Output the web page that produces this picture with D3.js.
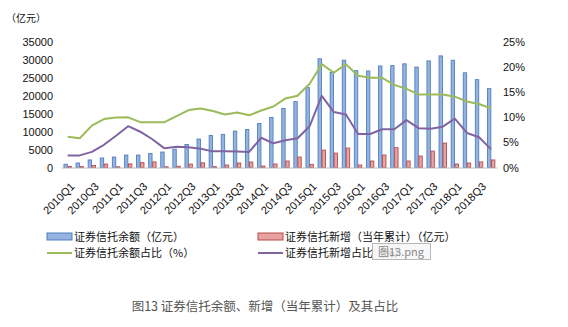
<!DOCTYPE html>
<html><head><meta charset="utf-8">
<script src="https://cdn.jsdelivr.net/npm/d3@7"></script>
<style>
html,body{margin:0;padding:0;background:#fff;}
svg{display:block;}
</style></head>
<body><svg id="c" width="568" height="327"></svg>
<script>
const quarters = ["2010Q1","2010Q2","2010Q3","2010Q4","2011Q1","2011Q2","2011Q3","2011Q4",
"2012Q1","2012Q2","2012Q3","2012Q4","2013Q1","2013Q2","2013Q3","2013Q4",
"2014Q1","2014Q2","2014Q3","2014Q4","2015Q1","2015Q2","2015Q3","2015Q4",
"2016Q1","2016Q2","2016Q3","2016Q4","2017Q1","2017Q2","2017Q3","2017Q4",
"2018Q1","2018Q2","2018Q3","2018Q4"];
const shownLabels = ["2010Q1","2010Q3","2011Q1","2011Q3","2012Q1","2012Q3","2013Q1","2013Q3",
"2014Q1","2014Q3","2015Q1","2015Q3","2016Q1","2016Q3","2017Q1","2017Q3","2018Q1","2018Q3"];
const balance = [900,1250,2100,2650,2900,3450,3450,3900,4300,5100,6400,7900,
8900,9200,10100,10550,12200,13900,16400,18300,22200,30200,26400,29800,
26900,26800,28200,28300,28800,27900,29600,31000,29800,26300,24400,21900];
const newAdd = [300,250,550,950,200,1000,1350,1550,200,350,950,1300,
230,690,1240,1520,400,970,1800,2900,880,4840,4000,5400,
690,1800,3460,5500,1800,3180,4560,6780,970,1240,1550,2100];
const balShare = [6.1,5.8,8.3,9.6,9.9,9.95,9.0,9.0,9.0,10.2,11.4,11.7,
11.2,10.5,10.9,10.35,11.3,12.1,13.7,14.25,16.6,20.5,18.8,20.5,
18.2,17.8,17.8,16.4,15.6,14.5,14.5,14.5,14.05,13.1,12.6,11.7];
const newShare = [2.4,2.4,3.1,4.5,6.3,8.2,7.1,5.6,3.8,4.1,4.0,3.7,
3.2,3.2,3.15,3.1,5.9,4.8,5.4,5.8,8.2,14.2,11.0,10.5,
6.65,6.65,7.6,7.6,9.4,7.8,7.7,8.1,9.7,6.85,6.0,3.6];
const leftTicks = [0,5000,10000,15000,20000,25000,30000,35000];
const rightTicks = [0,5,10,15,20,25];
const seriesNames = ["证券信托余额（亿元）","证券信托新增（当年累计）（亿元）","证券信托余额占比（%）","证券信托新增占比（%）"];
const leftUnit = "（亿元）";
const titleText = "图13 证券信托余额、新增（当年累计）及其占比";

const svg = d3.select("#c");
const yTop = 41.5, base = 167.5, x0 = 61.6, x1 = 497.2;
const x = d3.scaleBand().domain(quarters).range([x0, x1]).padding(0);
const yL = d3.scaleLinear().domain([0,35000]).range([base, yTop]);
const yR = d3.scaleLinear().domain([0,25]).range([base, yTop]);
const cx = q => x(q) + x.bandwidth()/2;
const numFont = "'Liberation Sans', Arial, sans-serif";
const cjkFont = "'Noto Sans CJK SC', sans-serif";

// left axis
const gL = svg.append("g").attr("transform", `translate(${53},0)`)
  .call(d3.axisLeft(yL).tickValues(leftTicks).tickSize(0).tickPadding(0).tickFormat(d3.format("d")));
gL.select(".domain").remove();
gL.selectAll("text").attr("font-family", numFont).attr("font-size", 11).attr("fill", "#111");

// right axis
const gR = svg.append("g").attr("transform", `translate(${503},0)`)
  .call(d3.axisRight(yR).tickValues(rightTicks).tickSize(0).tickPadding(0).tickFormat(d => d + "%"));
gR.select(".domain").remove();
gR.selectAll("text").attr("font-family", numFont).attr("font-size", 11).attr("fill", "#111");

svg.append("text").attr("x", 6).attr("y", 22).text(leftUnit)
  .attr("font-family", cjkFont).attr("font-size", 10).attr("fill", "#111");

// bars
const bw = 3.4;
svg.append("g").selectAll("rect").data(quarters).join("rect")
  .attr("x", (q) => cx(q) - bw - 0.3).attr("width", bw)
  .attr("y", (q,i) => yL(balance[i])).attr("height", (q,i) => base - yL(balance[i]))
  .attr("fill", "#95b3de").attr("stroke", "#4f7fc0").attr("stroke-width", 0.9);
svg.append("g").selectAll("rect").data(quarters).join("rect")
  .attr("x", (q) => cx(q) + 0.3).attr("width", bw)
  .attr("y", (q,i) => yL(newAdd[i])).attr("height", (q,i) => base - yL(newAdd[i]))
  .attr("fill", "#e6a3a2").attr("stroke", "#b94a48").attr("stroke-width", 0.9);

// x axis line
svg.append("line").attr("x1", x0).attr("x2", x1).attr("y1", base + 0.5).attr("y2", base + 0.5)
  .attr("stroke", "#bcbcbc").attr("stroke-width", 1);

// lines
const lineGen = arr => d3.line().x(q => cx(q)).y((q,i) => yR(arr[i]))(quarters);
svg.append("path").attr("d", lineGen(balShare)).attr("fill", "none")
  .attr("stroke", "#9bbb59").attr("stroke-width", 2).attr("stroke-linejoin", "round");
svg.append("path").attr("d", lineGen(newShare)).attr("fill", "none")
  .attr("stroke", "#8064a2").attr("stroke-width", 2).attr("stroke-linejoin", "round");

// x labels
const gX = svg.append("g").attr("transform", `translate(0,${base})`)
  .call(d3.axisBottom(x).tickValues(shownLabels).tickSize(0).tickPadding(0));
gX.select(".domain").remove();
gX.selectAll("text")
  .attr("font-family", numFont).attr("font-size", 11).attr("fill", "#111")
  .attr("text-anchor", "end")
  .attr("transform", "translate(5,17) rotate(-45)")
  .attr("dy", "0.35em").attr("y", 0);

// legend
const leg = svg.append("g").attr("font-family", cjkFont).attr("font-size", 11).attr("fill", "#111");
const lx = [47, 258], ly = [237, 253];
leg.append("rect").attr("x", lx[0]).attr("y", ly[0]-4).attr("width", 25).attr("height", 7)
  .attr("fill", "#95b3de").attr("stroke", "#4f7fc0").attr("stroke-width", 1);
leg.append("rect").attr("x", lx[1]).attr("y", ly[0]-4).attr("width", 25).attr("height", 7)
  .attr("fill", "#e6a3a2").attr("stroke", "#b94a48").attr("stroke-width", 1);
leg.append("line").attr("x1", lx[0]).attr("x2", lx[0]+25).attr("y1", ly[1]).attr("y2", ly[1])
  .attr("stroke", "#9bbb59").attr("stroke-width", 2);
leg.append("line").attr("x1", lx[1]).attr("x2", lx[1]+25).attr("y1", ly[1]).attr("y2", ly[1])
  .attr("stroke", "#8064a2").attr("stroke-width", 2);
[[0,0],[1,0],[0,1],[1,1]].forEach(([c,r], k) => {
  leg.append("text").attr("x", lx[c] + 27).attr("y", ly[r]).attr("dy", "0.36em").text(seriesNames[k]);
});

// tooltip overlay (as in the reference screenshot)
const tip = svg.append("g").attr("transform", "translate(372,243)");
tip.append("rect").attr("x", 0.5).attr("y", 0.5).attr("width", 58).attr("height", 16)
  .attr("fill", "#f4f4f4").attr("fill-opacity", 0.75).attr("stroke", "#b8b8b8");
tip.append("text").attr("x", 6).attr("y", 12.5).text("图13.png")
  .attr("font-family", cjkFont).attr("font-size", 11).attr("fill", "#888");

// title
svg.append("text").attr("x", 265).attr("y", 311).attr("text-anchor", "middle").text(titleText)
  .attr("font-family", cjkFont).attr("font-size", 12.5).attr("fill", "#555");
</script></body></html>
